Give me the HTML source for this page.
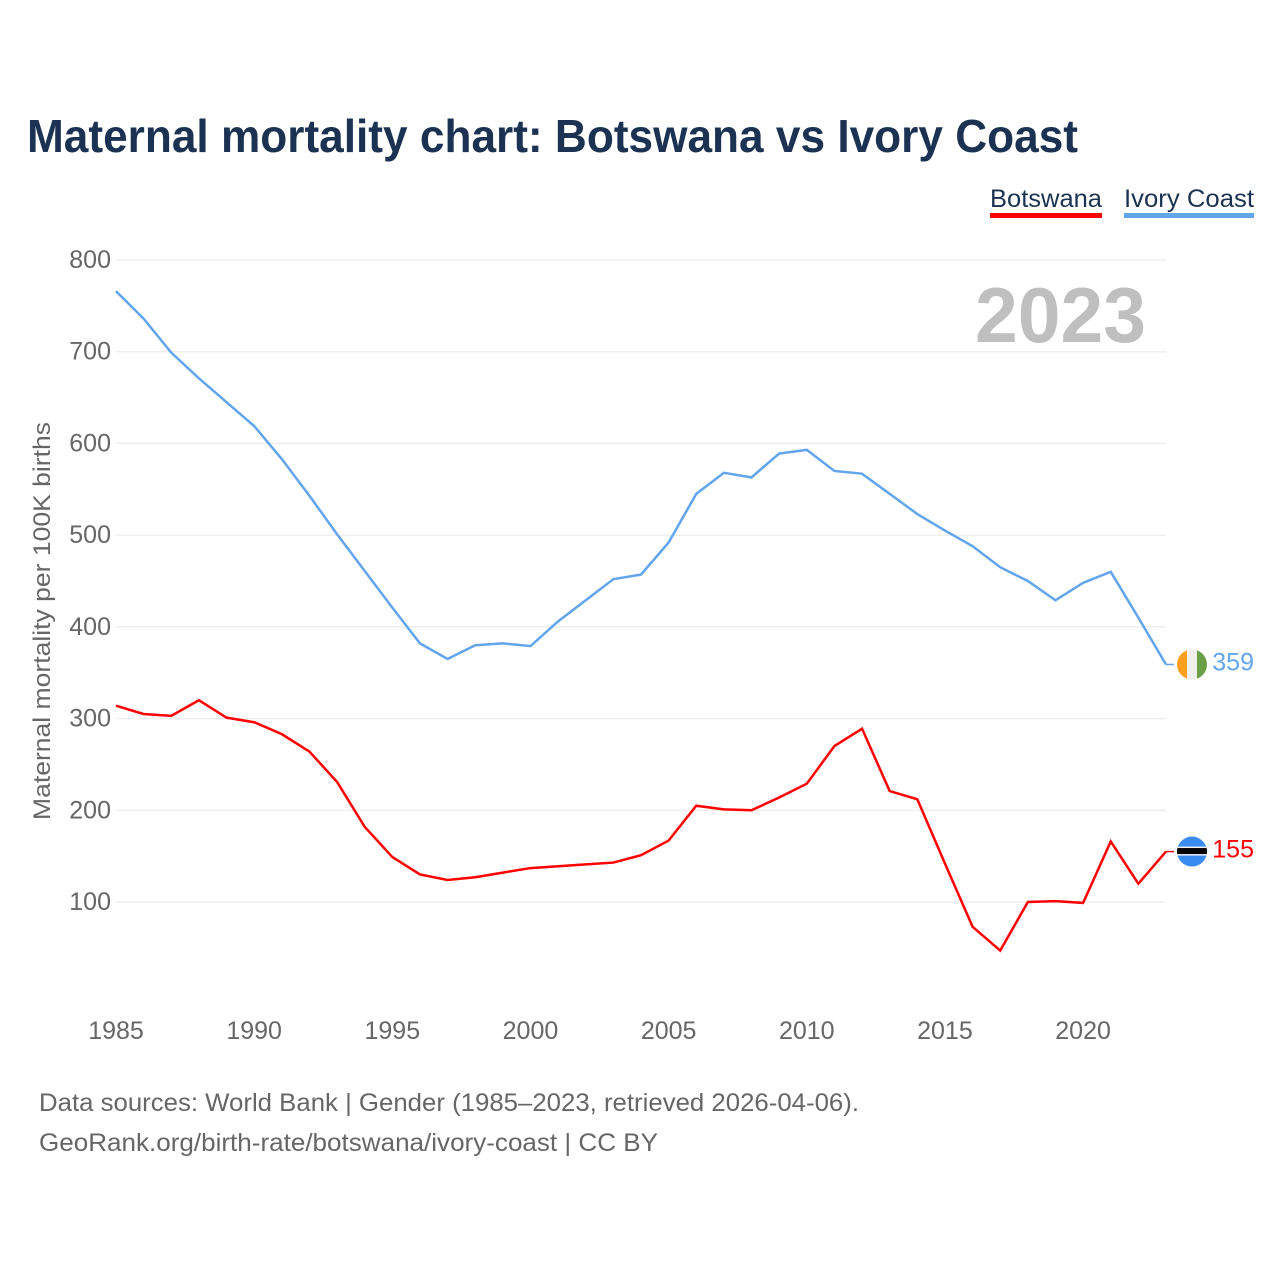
<!DOCTYPE html>
<html lang="en">
<head>
<meta charset="utf-8">
<title>Maternal mortality chart: Botswana vs Ivory Coast</title>
<style>
html,body{margin:0;padding:0;background:#fff;}
svg{display:block;}
text{font-family:"Liberation Sans",sans-serif;}
</style>
</head>
<body>
<svg id="chart" xmlns="http://www.w3.org/2000/svg" width="1280" height="1280" viewBox="0 0 1280 1280">
  <rect x="0" y="0" width="1280" height="1280" fill="#ffffff"/>
  <text x="27" y="152" font-size="46" font-weight="700" fill="#1b3252" textLength="1051" lengthAdjust="spacingAndGlyphs">Maternal mortality chart: Botswana vs Ivory Coast</text>

  <g id="grid"></g>
  <g id="yticks"></g>
  <g id="xticks"></g>

  <text transform="translate(50,820) rotate(-90)" font-size="24" fill="#666666" textLength="398" lengthAdjust="spacingAndGlyphs">Maternal mortality per 100K births</text>

  <text x="975" y="342" font-size="78" font-weight="700" fill="#bfbfbf" textLength="171" lengthAdjust="spacingAndGlyphs">2023</text>

  <g>
    <g>
      <text x="990" y="207" font-size="25" fill="#1b3252" textLength="112" lengthAdjust="spacingAndGlyphs">Botswana</text>
      <rect x="990" y="213" width="112" height="5" fill="#ff0000"/>
    </g>
    <g>
      <text x="1124" y="207" font-size="25" fill="#1b3252" textLength="130" lengthAdjust="spacingAndGlyphs">Ivory Coast</text>
      <rect x="1124" y="213" width="130" height="5" fill="#62a5ec"/>
    </g>
  </g>

  <g id="series"></g>
  <g id="ends"></g>

  <text x="39" y="1111" font-size="25" fill="#666666" textLength="820" lengthAdjust="spacingAndGlyphs">Data sources: World Bank | Gender (1985–2023, retrieved 2026-04-06).</text>
  <text x="39" y="1151" font-size="25" fill="#666666" textLength="619" lengthAdjust="spacingAndGlyphs">GeoRank.org/birth-rate/botswana/ivory-coast | CC BY</text>
</svg>

<script>
var years = [1985,1986,1987,1988,1989,1990,1991,1992,1993,1994,1995,1996,1997,1998,1999,2000,2001,2002,2003,2004,2005,2006,2007,2008,2009,2010,2011,2012,2013,2014,2015,2016,2017,2018,2019,2020,2021,2022,2023];
var ivoryCoastValues = [766,736,699,671,645,619,583,543,501,461,421,382,365,380,382,379,406,429,452,457,492,545,568,563,589,593,570,567,545,523,505,488,465,450,429,448,460,410,359];
var botswanaValues = [314,305,303,320,301,296,283,264,231,182,149,130,124,127,132,137,139,141,143,151,167,205,201,200,214,229,270,289,221,212,142,73,47,100,101,99,166,120,155];
var yTickValues = [100,200,300,400,500,600,700,800];
var xTickValues = [1985,1990,1995,2000,2005,2010,2015,2020];

var NS = 'http://www.w3.org/2000/svg';
function xScale(year) { return 116 + (year - 1985) * (1166 - 116) / (2023 - 1985); }
function yScale(value) { return 902 + (value - 100) * (260 - 902) / (800 - 100); }
function make(tag, parent) {
  var el = document.createElementNS(NS, tag);
  parent.appendChild(el);
  return el;
}
function linePoints(values) {
  return values.map(function (v, i) { return xScale(years[i]).toFixed(2) + ',' + yScale(v).toFixed(2); }).join(' ');
}

var grid = document.getElementById('grid');
var yticks = document.getElementById('yticks');
var xticks = document.getElementById('xticks');
var seriesGroup = document.getElementById('series');
var ends = document.getElementById('ends');

yTickValues.forEach(function (v) {
  var line = make('line', grid);
  
  
  line.setAttribute('x1', 116);
  line.setAttribute('x2', 1166);
  line.setAttribute('y1', yScale(v));
  line.setAttribute('y2', yScale(v));
  line.setAttribute('stroke', '#eeeeee');
  line.setAttribute('stroke-width', '1.4');

  var label = make('text', yticks);
  
  
  label.setAttribute('x', 111);
  label.setAttribute('y', yScale(v) + 8);
  label.setAttribute('text-anchor', 'end');
  label.setAttribute('font-size', '25');
  label.setAttribute('fill', '#666666');
  label.textContent = String(v);
});

xTickValues.forEach(function (y) {
  var label = make('text', xticks);
  
  
  label.setAttribute('x', xScale(y));
  label.setAttribute('y', 1039);
  label.setAttribute('text-anchor', 'middle');
  label.setAttribute('font-size', '25');
  label.setAttribute('fill', '#666666');
  label.textContent = String(y);
});

var ivoryLine = make('polyline', seriesGroup);


ivoryLine.setAttribute('points', linePoints(ivoryCoastValues));
ivoryLine.setAttribute('fill', 'none');
ivoryLine.setAttribute('stroke', '#62a5ec');
ivoryLine.setAttribute('stroke-width', '2.5');

var botswanaLine = make('polyline', seriesGroup);


botswanaLine.setAttribute('points', linePoints(botswanaValues));
botswanaLine.setAttribute('fill', 'none');
botswanaLine.setAttribute('stroke', '#ff0000');
botswanaLine.setAttribute('stroke-width', '2.5');

// End marker: Ivory Coast
var icValue = ivoryCoastValues[ivoryCoastValues.length - 1];
var icY = yScale(icValue);
var icConnector = make('line', ends);


icConnector.setAttribute('x1', 1166);
icConnector.setAttribute('x2', 1174);
icConnector.setAttribute('y1', icY);
icConnector.setAttribute('y2', icY);
icConnector.setAttribute('stroke', '#62a5ec');
icConnector.setAttribute('stroke-width', '1.5');

var icFlag = make('g', ends);


var icClip = make('clipPath', icFlag);
icClip.setAttribute('id', 'clip-ic');
var icClipCircle = make('circle', icClip);
icClipCircle.setAttribute('cx', 1192);
icClipCircle.setAttribute('cy', icY);
icClipCircle.setAttribute('r', 15);
var icStripes = make('g', icFlag);
icStripes.setAttribute('clip-path', 'url(#clip-ic)');
var icOrange = make('rect', icStripes);
icOrange.setAttribute('x', 1177);
icOrange.setAttribute('y', icY - 15);
icOrange.setAttribute('width', 10);
icOrange.setAttribute('height', 30);
icOrange.setAttribute('fill', '#ff9f1c');
var icWhite = make('rect', icStripes);
icWhite.setAttribute('x', 1187);
icWhite.setAttribute('y', icY - 15);
icWhite.setAttribute('width', 10);
icWhite.setAttribute('height', 30);
icWhite.setAttribute('fill', '#efefef');
var icGreen = make('rect', icStripes);
icGreen.setAttribute('x', 1197);
icGreen.setAttribute('y', icY - 15);
icGreen.setAttribute('width', 10);
icGreen.setAttribute('height', 30);
icGreen.setAttribute('fill', '#6a9f45');

var icLabel = make('text', ends);


icLabel.setAttribute('x', 1254);
icLabel.setAttribute('y', icY + 6);
icLabel.setAttribute('text-anchor', 'end');
icLabel.setAttribute('font-size', '25');
icLabel.setAttribute('fill', '#62a5ec');
icLabel.textContent = String(icValue);

// End marker: Botswana
var bwValue = botswanaValues[botswanaValues.length - 1];
var bwY = yScale(bwValue);
var bwConnector = make('line', ends);


bwConnector.setAttribute('x1', 1166);
bwConnector.setAttribute('x2', 1174);
bwConnector.setAttribute('y1', bwY);
bwConnector.setAttribute('y2', bwY);
bwConnector.setAttribute('stroke', '#ff0000');
bwConnector.setAttribute('stroke-width', '1.5');

var bwFlag = make('g', ends);


var bwClip = make('clipPath', bwFlag);
bwClip.setAttribute('id', 'clip-bw');
var bwClipCircle = make('circle', bwClip);
bwClipCircle.setAttribute('cx', 1192);
bwClipCircle.setAttribute('cy', bwY);
bwClipCircle.setAttribute('r', 15);
var bwStripes = make('g', bwFlag);
bwStripes.setAttribute('clip-path', 'url(#clip-bw)');
var bwBlue = make('rect', bwStripes);
bwBlue.setAttribute('x', 1177);
bwBlue.setAttribute('y', bwY - 15);
bwBlue.setAttribute('width', 30);
bwBlue.setAttribute('height', 30);
bwBlue.setAttribute('fill', '#3a8cf0');
var bwWhite = make('rect', bwStripes);
bwWhite.setAttribute('x', 1177);
bwWhite.setAttribute('y', bwY - 5);
bwWhite.setAttribute('width', 30);
bwWhite.setAttribute('height', 9);
bwWhite.setAttribute('fill', '#efefef');
var bwBlack = make('rect', bwStripes);
bwBlack.setAttribute('x', 1177);
bwBlack.setAttribute('y', bwY - 3.5);
bwBlack.setAttribute('width', 30);
bwBlack.setAttribute('height', 6);
bwBlack.setAttribute('fill', '#000000');

var bwLabel = make('text', ends);


bwLabel.setAttribute('x', 1254);
bwLabel.setAttribute('y', bwY + 6);
bwLabel.setAttribute('text-anchor', 'end');
bwLabel.setAttribute('font-size', '25');
bwLabel.setAttribute('fill', '#ff0000');
bwLabel.textContent = String(bwValue);
</script>
</body>
</html>
